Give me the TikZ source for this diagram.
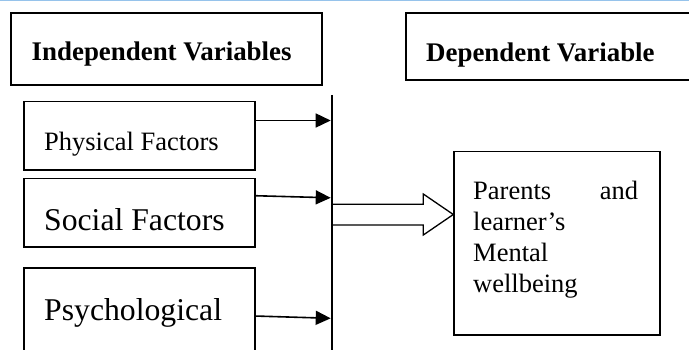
\documentclass[tikz,border=0pt]{standalone}
\usepackage{fontspec}
\setmainfont{Liberation Serif}
\usetikzlibrary{arrows.meta}
\definecolor{topblue}{RGB}{150,195,235}
\tikzset{
  box/.style={draw=black, line width=1.8pt, rectangle, inner sep=0pt, anchor=north west},
  lbl/.style={anchor=base west, inner sep=0pt},
  arr/.style={line width=1.6pt, -{Triangle[length=15pt,width=14pt]}},
  normtxt/.style={font=\fontsize{26.5}{31}\selectfont},
  bigtxt/.style={font=\fontsize{31.7}{37}\selectfont},
  boldtxt/.style={font=\fontsize{26.9}{31}\selectfont\bfseries},
}
\begin{document}
\begin{tikzpicture}[x=1pt,y=-1pt]
\useasboundingbox (0,0) rectangle (689,350);
\clip (0,0) rectangle (689,350);
\fill[white] (0,0) rectangle (689,350);
% top rule
\coordinate (tl) at (0,0.6);
\coordinate (tr) at (689,0.6);
\draw[topblue, line width=1.2pt] (tl) -- (tr);
% header boxes
\node[box, minimum width=311pt, minimum height=72pt] (indep) at (10,12) {};
\node[lbl, boldtxt] (indepT) at (31.5,60.7) {Independent Variables};
\node[box, minimum width=300pt, minimum height=66.5pt] (dep) at (405.3,12.5) {};
\node[lbl, boldtxt] (depT) at (426,62) {Dependent Variable};
% factor boxes
\node[box, minimum width=231pt, minimum height=68.3pt] (phys) at (23.3,100.7) {};
\node[lbl, normtxt] (physT) at (44,150.7) {Physical Factors};
\node[box, minimum width=231pt, minimum height=68.3pt] (soc) at (23.3,177.7) {};
\node[lbl, bigtxt] (socT) at (44,231) {Social Factors};
\node[box, minimum width=231pt, minimum height=120pt] (psy) at (23.3,267.3) {};
\node[lbl, bigtxt] (psyT) at (44,320) {Psychological};
% vertical collector line
\coordinate (vtop) at (331.7,95);
\coordinate (vbot) at (331.7,352);
\draw[line width=2pt] (vtop) -- (vbot);
% arrows into the line
\coordinate (v1) at (330.7,120.5);
\coordinate (v2) at (330.7,197.8);
\coordinate (v3) at (330.7,318.3);
\coordinate (s1) at (254.3,120.5);
\coordinate (s2) at (254.3,195.7);
\coordinate (s3) at (254.3,316);
\draw[arr] (s1) -- (v1);
\draw[arr] (s2) -- (v2);
\draw[arr] (s3) -- (v3);
% outcome box
\node[box, minimum width=205.7pt, minimum height=183.3pt] (out) at (453.3,150.7) {};
\node[anchor=north west, inner sep=0pt, text width=165pt, align=left,
      font=\fontsize{26.5}{31.2}\selectfont] (outT) at (473,180.5)
  {Parents\hfill and\\learner’s\\Mental\\wellbeing};
% block arrow
\coordinate (ba) at (333,204.2);
\draw[line width=1.3pt, line join=miter] (ba) -- (423.3,204.2) -- (423.3,194) -- (out.west |- 0,214.5)
  -- (423.3,235) -- (423.3,225) -- (333,225);
\end{tikzpicture}
\end{document}
